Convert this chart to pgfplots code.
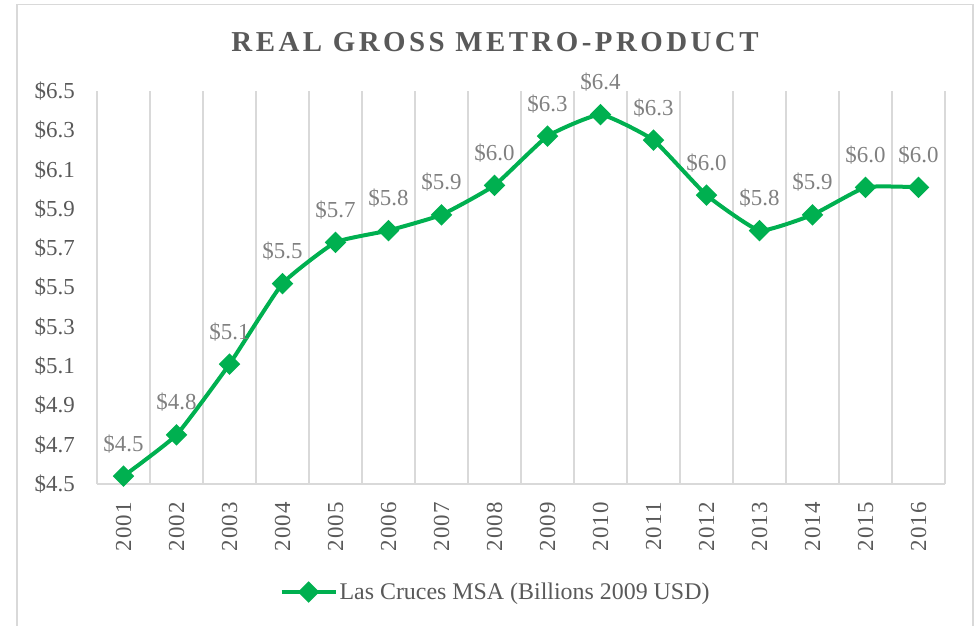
\documentclass[border=0pt]{standalone}
\usepackage{pgfplots}
\pgfplotsset{compat=1.18}
\usepackage{pgfplotstable}
\usepackage{fontspec}
\setmainfont{Liberation Serif}
\newfontfamily\titlefont[LetterSpace=12]{Liberation Serif}
\newfontfamily\yearfont[LetterSpace=5]{Liberation Serif}
\definecolor{lgreen}{HTML}{00B050}
\definecolor{tickgray}{HTML}{595959}
\definecolor{labgray}{HTML}{808080}
\definecolor{gridgray}{HTML}{D9D9D9}

\pgfplotstableread{
x y lab
1 4.54 4.5
2 4.75 4.8
3 5.11 5.1
4 5.52 5.5
5 5.73 5.7
6 5.79 5.8
7 5.87 5.9
8 6.02 6.0
9 6.27 6.3
10 6.38 6.4
11 6.25 6.3
12 5.97 6.0
13 5.79 5.8
14 5.87 5.9
15 6.01 6.0
16 6.01 6.0
}\gdp

\begin{document}
\begin{tikzpicture}
\useasboundingbox (0,0) rectangle (976bp,626bp);
\begin{scope}
\clip (0,0) rectangle (976bp,626bp);
\draw[gridgray, line width=1.2bp] (17bp,621.5bp) rectangle (973bp,-10bp);
\end{scope}
\node[font=\titlefont\bfseries\fontsize{29}{34}\selectfont, text=tickgray, anchor=base] at (495bp,574bp) {REAL GROSS METRO-PRODUCT};
\begin{axis}[
  at={(97bp,142bp)}, anchor=south west,
  scale only axis, width=848bp, height=393bp,
  xmin=0.5, xmax=16.5, ymin=4.5, ymax=6.5,
  clip=false,
  axis line style={draw=none},
  tick style={draw=none},
  xtick={1,...,16},
  xticklabels={2001,2002,2003,2004,2005,2006,2007,2008,2009,2010,2011,2012,2013,2014,2015,2016},
  minor xtick={0.5,1.5,...,16.5},
  xminorgrids,
  minor grid style={gridgray, line width=1.4bp},
  ytick={4.5,4.7,4.9,5.1,5.3,5.5,5.7,5.9,6.1,6.3,6.5},
  yticklabels={\$4.5,\$4.7,\$4.9,\$5.1,\$5.3,\$5.5,\$5.7,\$5.9,\$6.1,\$6.3,\$6.5},
  xticklabel style={rotate=90, anchor=east, inner sep=0pt, font=\yearfont\fontsize{23}{27}\selectfont, text=tickgray},
  xticklabel shift=18bp,
  yticklabel style={anchor=east, inner sep=0pt, font=\fontsize{23}{27}\selectfont, text=tickgray},
  yticklabel shift=22bp,
  legend style={at={(0.470,-0.275)}, anchor=center, draw=none, fill=none,
    font=\fontsize{24}{28}\selectfont, text=tickgray, inner sep=0pt},
  legend image code/.code={\draw[#1, mark repeat=2, mark phase=2] plot coordinates {(0bp,0bp) (27bp,0bp) (54bp,0bp)};},
  nodes near coords={\$\pgfplotspointmeta},
  every node near coord/.append style={anchor=base, inner sep=0pt, yshift=25bp,
    font=\fontsize{23}{27}\selectfont, text=labgray},
]
\draw[gridgray, line width=1.4bp] (axis cs:0.5,4.5) -- (axis cs:16.5,4.5);
\addplot[lgreen, line width=4bp, smooth, tension=0.25, mark=square*,
  mark size=5.6bp, mark options={rotate=45, solid, fill=lgreen},
  point meta=explicit symbolic]
  table[x=x, y=y, meta=lab] {\gdp};
\legend{Las Cruces MSA (Billions 2009 USD)}
\end{axis}
\end{tikzpicture}
\end{document}
